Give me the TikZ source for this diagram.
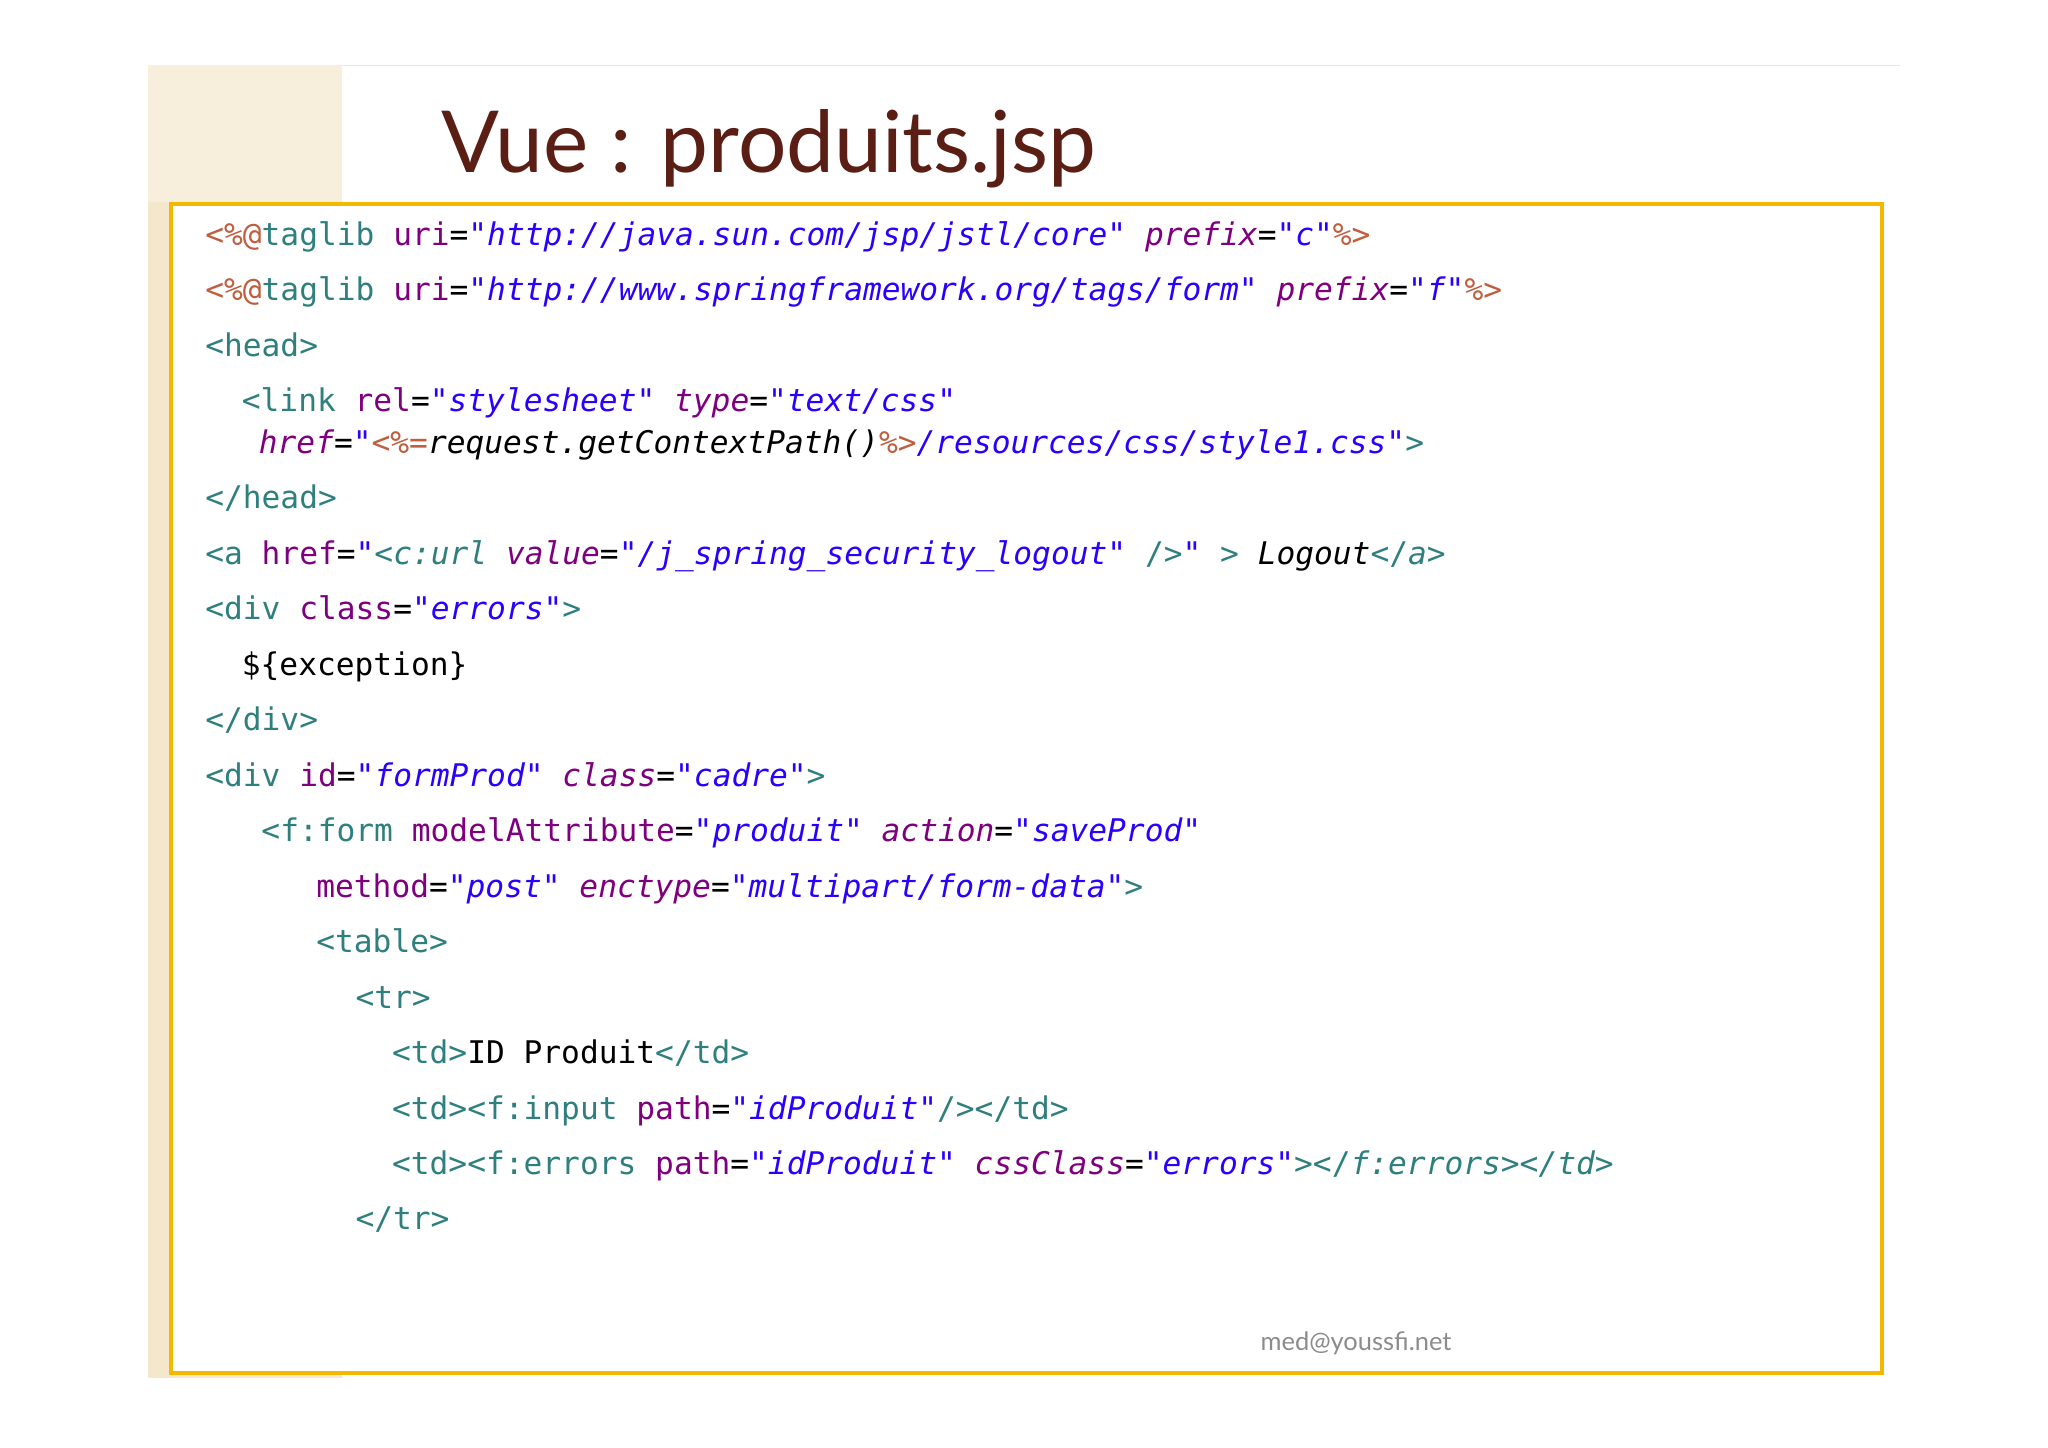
\documentclass[tikz,border=0pt]{standalone}
\usepackage{fontspec}
\setmainfont{Lato}
\newfontfamily\codefont{DejaVu Sans Mono}
\definecolor{tealc}{HTML}{2F7F7F}
\definecolor{purc}{HTML}{7F007F}
\definecolor{bluec}{HTML}{2A00FF}
\definecolor{jspc}{HTML}{BF5F3F}
\definecolor{framec}{HTML}{F5B800}
\definecolor{bandc}{HTML}{F4E7CB}
\definecolor{titlec}{HTML}{5A1E14}
\newcommand{\tg}[1]{\textcolor{tealc}{#1}}
\newcommand{\att}[1]{\textcolor{purc}{#1}}
\newcommand{\ati}[1]{\textcolor{purc}{\itshape #1}}
\newcommand{\va}[1]{\textcolor{bluec}{\itshape #1}}
\newcommand{\jsp}[1]{\textcolor{jspc}{#1}}
\begin{document}
\begin{tikzpicture}[x=1pt,y=-1pt,
  code/.style={anchor=base west,inner sep=0pt,font=\codefont\fontsize{23.9}{28}\selectfont}]
\useasboundingbox[fill=white] (0,0) rectangle (1568,1108);
\fill[bandc] (113,50) rectangle (262,1055);
\fill[bandc!70] (113,50) rectangle (262,155);
\begin{scope}
\clip (113,50) rectangle (262,155);
\draw[white,line width=1.5] (130,155) arc[start angle=180,end angle=90,radius=105];
\end{scope}
\draw[black!10] (262,50) -- (1455,50);
\node[anchor=base west,inner sep=0pt,text=titlec,font=\fontsize{65.5}{78}\selectfont] (title) at (338,132) {Vue : produits.jsp};
\draw[framec,line width=3,fill=white] (131,156) rectangle (1441,1051);
\node[code] (l1) at (157,188) {\jsp{<\%@}\tg{taglib} \att{uri}=\va{"http://java.sun.com/jsp/jstl/core"} \ati{prefix}=\va{"c"}\jsp{\%>}};
\node[code] (l2) at (157,230) {\jsp{<\%@}\tg{taglib} \att{uri}=\va{"http://www.springframework.org/tags/form"} \ati{prefix}=\va{"f"}\jsp{\%>}};
\node[code] (l3) at (157,273) {\tg{<head>}};
\node[code] (l4) at (185,315) {\tg{<link} \att{rel}=\va{"stylesheet"} \ati{type}=\va{"text/css"}};
\node[code] (l5) at (198,347) {\ati{href}=\va{"}\jsp{<\%=}{\itshape request.getContextPath()}\jsp{\%>}\va{/resources/css/style1.css"}\tg{>}};
\node[code] (l6) at (157,389) {\tg{</head>}};
\node[code] (l7) at (157,432) {\tg{<a} \att{href}=\va{"}\tg{<\itshape c:url} \ati{value}=\va{"/j\_spring\_security\_logout"} \tg{/>}\va{"} \tg{>} {\itshape Logout}\tg{</\itshape a>}};
\node[code] (l8) at (157,474) {\tg{<div} \att{class}=\va{"errors"}\tg{>}};
\node[code] (l9) at (185,517) {\$\{exception\}};
\node[code] (l10) at (157,559) {\tg{</div>}};
\node[code] (l11) at (157,602) {\tg{<div} \att{id}=\va{"formProd"} \ati{class}=\va{"cadre"}\tg{>}};
\node[code] (l12) at (200,644) {\tg{<f:form} \att{modelAttribute}=\va{"produit"} \ati{action}=\va{"saveProd"}};
\node[code] (l13) at (242,687) {\att{method}=\va{"post"} \ati{enctype}=\va{"multipart/form-data"}\tg{>}};
\node[code] (l14) at (242,729) {\tg{<table>}};
\node[code] (l15) at (272,772) {\tg{<tr>}};
\node[code] (l16) at (300,814) {\tg{<td>}ID Produit\tg{</td>}};
\node[code] (l17) at (300,857) {\tg{<td><f:input} \att{path}=\va{"idProduit"}\tg{/></td>}};
\node[code] (l18) at (300,899) {\tg{<td><f:errors} \att{path}=\va{"idProduit"} \ati{cssClass}=\va{"errors"}\tg{></\itshape f:errors></td>}};
\node[code] (l19) at (272,941) {\tg{</tr>}};
\node[anchor=base west,inner sep=0pt,text=black!45,font=\fontsize{19.5}{22}\selectfont] (foot) at (965,1034) {med@youssfi.net};
\end{tikzpicture}
\end{document}
